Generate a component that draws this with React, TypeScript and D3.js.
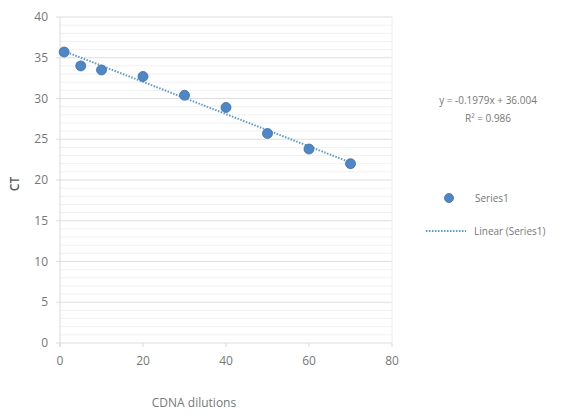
import React from "react";
import * as d3 from "d3";

const xValues = [1, 5, 10, 20, 30, 40, 50, 60, 70];
const ctValues = [35.7, 34.0, 33.5, 32.7, 30.4, 28.9, 25.7, 23.8, 22.0];
const yTicks = [0, 5, 10, 15, 20, 25, 30, 35, 40];
const xTicks = [0, 20, 40, 60, 80];
const slope = -0.1979;
const intercept = 36.004;
const equationText = "y = -0.1979x + 36.004";
const r2Text = "R² = 0.986";
const seriesName = "Series1";
const trendName = "Linear (Series1)";

const W = 569;
const H = 414;
const font = "'Open Sans', 'Liberation Sans', sans-serif";

export default function App() {
  const x = d3.scaleLinear().domain([0, 80]).range([60, 392]);
  const y = d3.scaleLinear().domain([0, 40]).range([343, 17]);
  const minor = d3.range(0, 40, 1).filter((v) => v % 5 !== 0);
  const x0 = d3.min(xValues) as number;
  const x1 = d3.max(xValues) as number;
  return (
    <svg width={W} height={H} style={{ position: "absolute", left: 0, top: 0, background: "#fff" }}>
      {minor.map((v) => (
        <line key={"m" + v} x1={x(0)} x2={x(80)} y1={y(v)} y2={y(v)} stroke="#f1f1f1" strokeWidth={1} />
      ))}
      {yTicks.map((v) => (
        <line key={"g" + v} x1={x(0) - 4} x2={x(80)} y1={y(v)} y2={y(v)} stroke="#dedede" strokeWidth={1} />
      ))}
      <line x1={x(0)} x2={x(0)} y1={y(40)} y2={y(0) + 4} stroke="#d9d9d9" />
      <line x1={x(80)} x2={x(80)} y1={y(40)} y2={y(0)} stroke="#ececec" />
      {xTicks.map((v) => (
        <line key={"xt" + v} x1={x(v)} x2={x(v)} y1={y(0)} y2={y(0) + 4} stroke="#d9d9d9" />
      ))}
      {yTicks.map((v) => (
        <text key={"yl" + v} x={x(0) - 12} y={y(v)} dy="0.35em" textAnchor="end" fontFamily={font} fontSize={12} fill="#777">
          {v}
        </text>
      ))}
      {xTicks.map((v) => (
        <text key={"xl" + v} x={x(v)} y={y(0) + 22} textAnchor="middle" fontFamily={font} fontSize={12} fill="#777">
          {v}
        </text>
      ))}
      <line
        x1={x(x0)}
        x2={x(x1)}
        y1={y(slope * x0 + intercept)}
        y2={y(slope * x1 + intercept)}
        stroke="#5b9bd5"
        strokeWidth={2}
        strokeDasharray="1.5 1.5"
      />
      {xValues.map((v, i) => (
        <circle key={"p" + i} cx={x(v)} cy={y(ctValues[i])} r={5} fill="#4f86c6" stroke="#3d6fa8" strokeWidth={0.8} />
      ))}
      <text x={15} y={184} transform="rotate(-90 15 184)" textAnchor="middle" dy="0.35em" fontFamily={font} fontSize={12} fontWeight={600} fill="#555">
        CT
      </text>
      <text x={194} y={407} textAnchor="middle" fontFamily={font} fontSize={12} fill="#777">
        CDNA dilutions
      </text>
      <text x={488} y={104} textAnchor="middle" fontFamily={font} fontSize={10} fill="#777">
        {equationText}
      </text>
      <text x={488} y={122} textAnchor="middle" fontFamily={font} fontSize={10} fill="#777">
        {r2Text}
      </text>
      <circle cx={449} cy={198} r={4.5} fill="#4f86c6" stroke="#3d6fa8" strokeWidth={0.8} />
      <text x={475} y={198} dy="0.35em" fontFamily={font} fontSize={10} fill="#777">
        {seriesName}
      </text>
      <line x1={426} x2={466} y1={231} y2={231} stroke="#5b9bd5" strokeWidth={2} strokeDasharray="1.5 1.5" />
      <text x={474} y={231} dy="0.35em" fontFamily={font} fontSize={10} fill="#777">
        {trendName}
      </text>
    </svg>
  );
}
